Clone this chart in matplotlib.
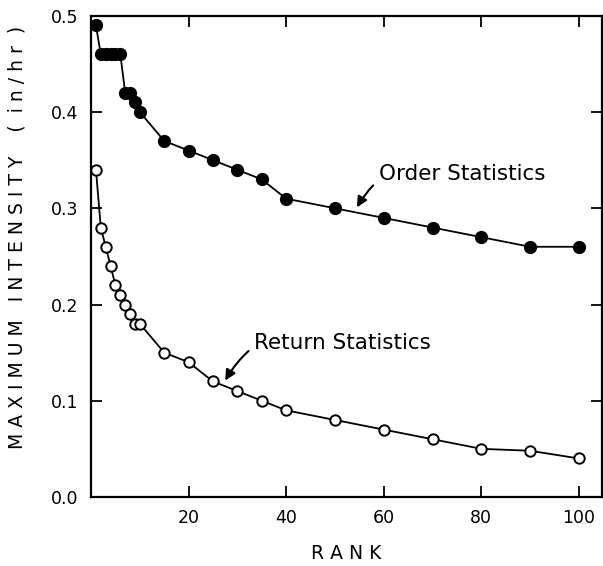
import numpy as np
import matplotlib.pyplot as plt

# order statistics (filled circles)
order_rank = [1, 2, 3, 4, 5, 6, 7, 8, 9, 10, 15, 20, 25, 30, 35, 40, 50, 60, 70, 80, 90, 100]
order_val = [0.49, 0.46, 0.46, 0.46, 0.46, 0.46, 0.42, 0.42, 0.41, 0.40,
             0.37, 0.36, 0.35, 0.34, 0.33, 0.31, 0.30, 0.29, 0.28, 0.27, 0.26, 0.26]

# return statistics (open circles)
return_rank = [1, 2, 3, 4, 5, 6, 7, 8, 9, 10, 15, 20, 25, 30, 35, 40, 50, 60, 70, 80, 90, 100]
return_val = [0.34, 0.28, 0.26, 0.24, 0.22, 0.21, 0.20, 0.19, 0.18, 0.18,
              0.15, 0.14, 0.12, 0.11, 0.10, 0.09, 0.08, 0.07, 0.06, 0.05, 0.048, 0.04]

x_ticks = [20, 40, 60, 80, 100]
y_ticks = [0.0, 0.1, 0.2, 0.3, 0.4, 0.5]

plt.rcParams['font.family'] = ['DejaVu Sans']

fig = plt.figure(figsize=(6.03, 5.66), dpi=100)
ax = fig.add_axes([0.151, 0.122, 0.847, 0.850])

ax.plot(order_rank, order_val, '-o', color='black', lw=1.3,
        markersize=8.5, markerfacecolor='black', markeredgecolor='black', zorder=3)
ax.plot(return_rank, return_val, '-o', color='black', lw=1.3,
        markersize=7.5, markerfacecolor='white', markeredgecolor='black',
        markeredgewidth=1.4, zorder=3)

ax.set_xlim(0, 104.7)
ax.set_ylim(0, 0.5)
ax.set_xticks(x_ticks)
ax.set_xticklabels([str(t) for t in x_ticks])
ax.set_yticks(y_ticks)
ax.set_yticklabels(['%.1f' % t for t in y_ticks])
ax.tick_params(direction='in', length=8, width=1.3, top=True, right=True,
               labelsize=12.5, pad=9)
for s in ax.spines.values():
    s.set_linewidth(1.6)

ax.set_xlabel('R A N K', fontsize=13.5)
ax.xaxis.set_label_coords(0.5, -0.098)
ax.set_ylabel('M A X I M U M   I N T E N S I T Y    (  i n / h r  )', fontsize=13.5)
ax.yaxis.set_label_coords(-0.127, 0.54)

ax.annotate('Order Statistics', xy=(54.5, 0.301), xytext=(59, 0.336),
            fontsize=15.5, va='center', ha='left',
            arrowprops=dict(arrowstyle='-|>', color='black', lw=1.5,
                            shrinkA=3, shrinkB=0,
                            connectionstyle='arc3,rad=0.45'))
ax.annotate('Return Statistics', xy=(27.5, 0.121), xytext=(33.5, 0.160),
            fontsize=15.5, va='center', ha='left',
            arrowprops=dict(arrowstyle='-|>', color='black', lw=1.5,
                            shrinkA=3, shrinkB=0,
                            connectionstyle='arc3,rad=0.45'))

plt.savefig('out.png', dpi=100)
